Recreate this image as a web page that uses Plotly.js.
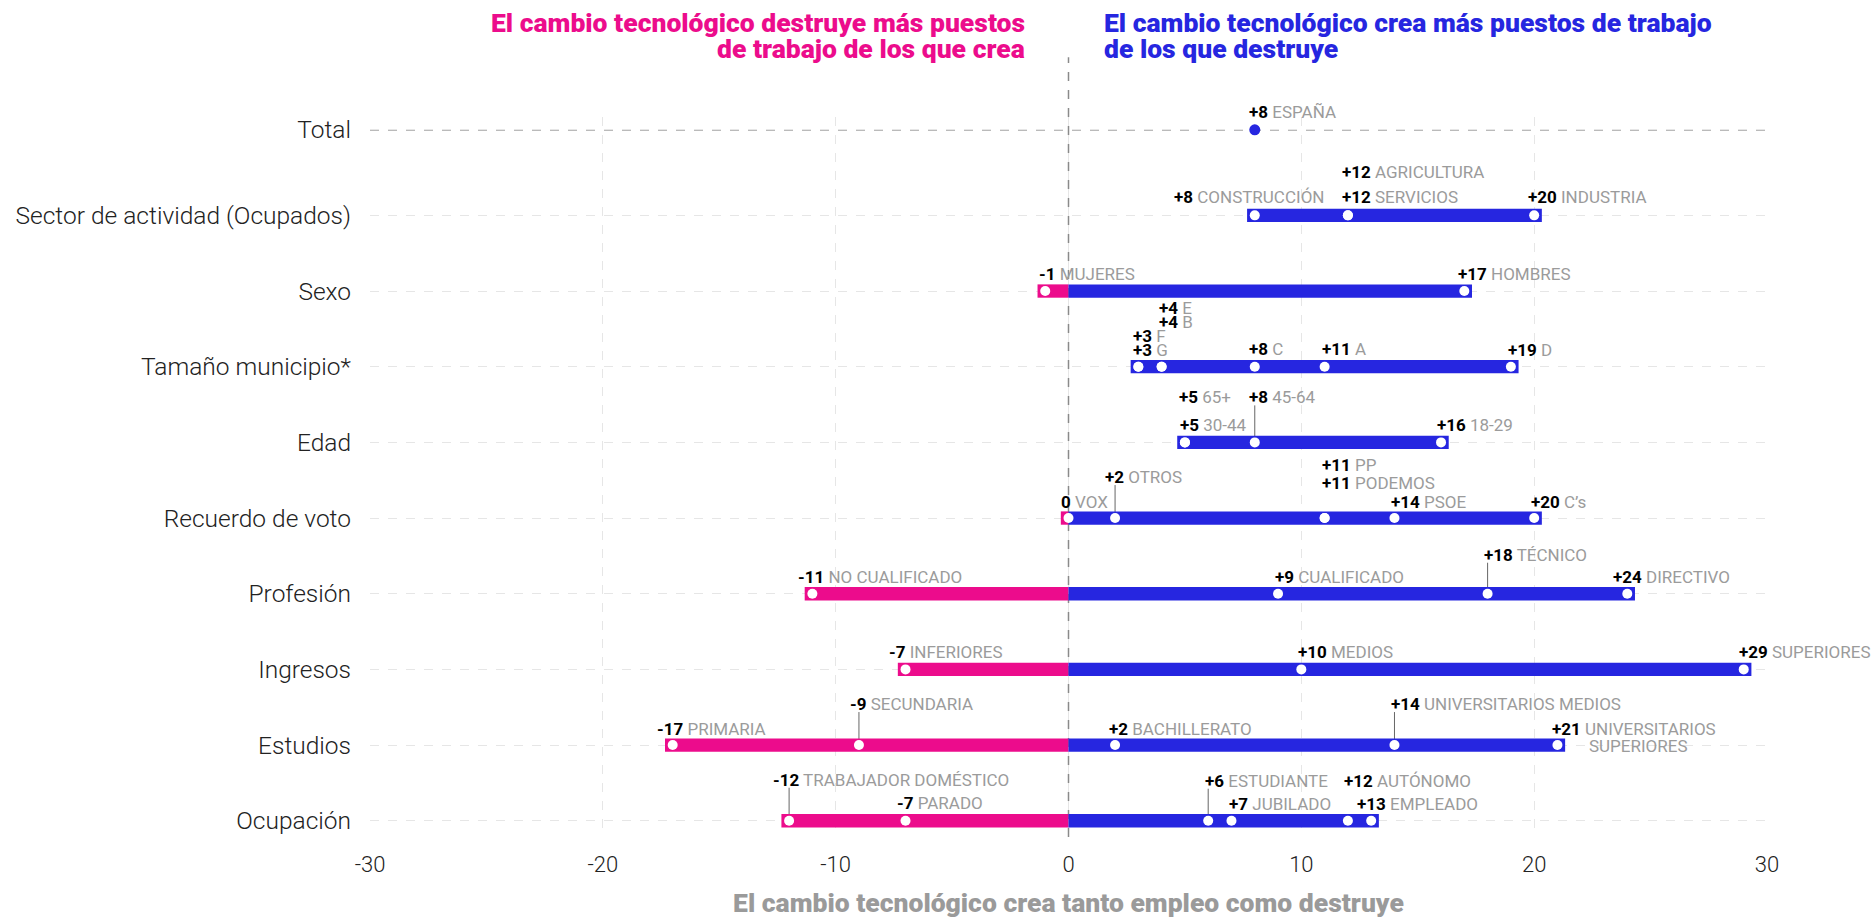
<!DOCTYPE html>
<html>
<head>
<meta charset="utf-8">
<script src="https://cdn.plot.ly/plotly-3.0.1.min.js"></script>
<style>html,body{margin:0;padding:0;background:#fff;}#chart{width:1871px;height:918px;}</style>
</head>
<body>
<div id="chart"></div>
<script>
// ---------- DATA ----------
const rowNames = ['Ocupación','Estudios','Ingresos','Profesión','Recuerdo de voto','Edad','Tamaño municipio*','Sexo','Sector de actividad (Ocupados)','Total'];

const ocupacionNames = ['TRABAJADOR DOMÉSTICO','PARADO','ESTUDIANTE','JUBILADO','AUTÓNOMO','EMPLEADO'];
const ocupacionValues = [-12,-7,6,7,12,13];
const estudiosNames = ['PRIMARIA','SECUNDARIA','BACHILLERATO','UNIVERSITARIOS MEDIOS','UNIVERSITARIOS SUPERIORES'];
const estudiosValues = [-17,-9,2,14,21];
const ingresosNames = ['INFERIORES','MEDIOS','SUPERIORES'];
const ingresosValues = [-7,10,29];
const profesionNames = ['NO CUALIFICADO','CUALIFICADO','TÉCNICO','DIRECTIVO'];
const profesionValues = [-11,9,18,24];
const votoNames = ['VOX','OTROS','PP','PODEMOS','PSOE','C’s'];
const votoValues = [0,2,11,11,14,20];
const edadNames = ['65+','30-44','45-64','18-29'];
const edadValues = [5,5,8,16];
const tamanoNames = ['G','F','B','E','C','A','D'];
const tamanoValues = [3,3,4,4,8,11,19];
const sexoNames = ['MUJERES','HOMBRES'];
const sexoValues = [-1,17];
const sectorNames = ['CONSTRUCCIÓN','SERVICIOS','AGRICULTURA','INDUSTRIA'];
const sectorValues = [8,12,12,20];
const totalNames = ['ESPAÑA'];
const totalValues = [8];

const xTickVals = [-30,-20,-10,0,10,20,30];

const titleLeft = ['El cambio tecnológico destruye más puestos','de trabajo de los que crea'];
const titleRight = ['El cambio tecnológico crea más puestos de trabajo','de los que destruye'];
const xTitle = 'El cambio tecnológico crea tanto empleo como destruye';

// ---------- LABEL PLACEMENT (pixels: [dy above row, dx from point, leader line, wrap]) ----------
const ocupacionPos = [[41,-17,1],[18,-10,0],[40,-4,1],[17,-3.5,0],[40,-5,0],[17,-15,0]];
const estudiosPos = [[16,-17,0],[41,-10,1],[16,-7.5,0],[41,-4,1],[16,-6,0,1]];
const ingresosPos = [[17,-17.5,0],[17,-4,0],[17,-6,0]];
const profesionPos = [[17,-15,0],[17,-4.5,0],[39,-5,1],[17,-15.5,0]];
const votoPos = [[16,-8.5,0],[41,-11,1],[53,-3.6,0],[35,-3.6,0],[16,-4,0],[16,-4,0]];
const edadPos = [[45,-7,0],[17,-6,0],[45,-6.5,1],[17,-5.5,0]];
const tamanoPos = [[17,-6,0],[31,-6,0],[44.5,-4,0],[58.5,-4,0],[18,-6.5,0],[18,-4,0],[17,-4,0]];
const sexoPos = [[17,-7,0],[17,-7,0]];
const sectorPos = [[18,-82,0],[18,-7,0],[43.5,-7,0],[18,-7,0]];
const totalPos = [[18,-7,0]];

// ---------- BUILD ----------
const PINK = '#EC0C8C', BLUE = '#2626E0';
const groups = [
  [ocupacionNames, ocupacionValues, ocupacionPos],
  [estudiosNames, estudiosValues, estudiosPos],
  [ingresosNames, ingresosValues, ingresosPos],
  [profesionNames, profesionValues, profesionPos],
  [votoNames, votoValues, votoPos],
  [edadNames, edadValues, edadPos],
  [tamanoNames, tamanoValues, tamanoPos],
  [sexoNames, sexoValues, sexoPos],
  [sectorNames, sectorValues, sectorPos],
  [totalNames, totalValues, totalPos]
];
const rowY = rowNames.map((n,i) => i < 9 ? i : 9.13);
const totalIdx = 9;
const pad = 0.33;
const LBL = 17;

const pinkY=[], pinkBase=[], pinkLen=[], blueY=[], blueBase=[], blueLen=[];
const dotX=[], dotY=[];
const annotations=[], shapes=[];

function fmt(v){ return (v>0?'+':'') + v; }

groups.forEach((g, gi) => {
  const [names, vals, pos] = g;
  const y = rowY[gi];
  if (gi !== totalIdx) {
    const mn = Math.min(...vals), mx = Math.max(...vals);
    if (mn <= 0) {
      pinkY.push(y); pinkBase.push(mn - pad); pinkLen.push(-(mn - pad));
      blueY.push(y); blueBase.push(0); blueLen.push(mx + pad);
    } else {
      blueY.push(y); blueBase.push(mn - pad); blueLen.push(mx + pad - (mn - pad));
    }
    vals.forEach(v => { dotX.push(v); dotY.push(y); });
  }
  names.forEach((nm, k) => {
    const v = vals[k];
    const [dy, dx, leader, wrap] = pos[k];
    let first = nm, rest = null;
    if (wrap) { const s = nm.indexOf(' '); first = nm.slice(0,s); rest = nm.slice(s+1); }
    annotations.push({
      xref:'x', yref:'y', x:v, y:y, xanchor:'left', yanchor:'middle',
      xshift:dx, yshift:dy, showarrow:false, borderpad:0,
      text:'<span style="color:#000"><b>'+fmt(v)+'</b></span> '+first,
      font:{family:'Roboto', size:LBL, color:'#9b9b9b'}
    });
    if (rest) {
      annotations.push({
        xref:'x', yref:'y', x:v, y:y, xanchor:'left', yanchor:'middle',
        xshift:dx+37, yshift:dy-17, showarrow:false, borderpad:0,
        text:rest, font:{family:'Roboto', size:LBL, color:'#9b9b9b'}
      });
    }
    if (leader) {
      shapes.push({type:'line', layer:'below', xref:'x', yref:'y', ysizemode:'pixel', yanchor:y,
        x0:v, x1:v, y0:0, y1:dy-8, line:{color:'#666', width:1}});
    }
  });
});

// zero line & total line
shapes.push({type:'line', layer:'below', xref:'x', yref:'paper', x0:0, x1:0, y0:0, y1:1.083,
  line:{color:'#8a8a8a', width:1.5, dash:'dash'}});
shapes.push({type:'line', layer:'below', xref:'paper', yref:'y', x0:0, x1:1, y0:rowY[totalIdx], y1:rowY[totalIdx],
  line:{color:'#777', width:1.3, dash:'dash'}});

// titles
const tFont = c => ({family:'Roboto Black, Roboto', size:26.5, color:c, weight:900});
annotations.push({xref:'x', yref:'paper', x:0, y:1.1306, xanchor:'right', yanchor:'middle', xshift:-42, showarrow:false, text:titleLeft[0], font:tFont(PINK)});
annotations.push({xref:'x', yref:'paper', x:0, y:1.0958, xanchor:'right', yanchor:'middle', xshift:-42, showarrow:false, text:titleLeft[1], font:tFont(PINK)});
annotations.push({xref:'x', yref:'paper', x:0, y:1.1306, xanchor:'left', yanchor:'middle', xshift:33, showarrow:false, text:titleRight[0], font:tFont(BLUE)});
annotations.push({xref:'x', yref:'paper', x:0, y:1.0958, xanchor:'left', yanchor:'middle', xshift:33, showarrow:false, text:titleRight[1], font:tFont(BLUE)});

const barW = 0.176;
const traces = [
  {type:'bar', orientation:'h', y:pinkY, x:pinkLen, base:pinkBase, width:barW,
   marker:{color:PINK, line:{width:0}}, hoverinfo:'skip', showlegend:false},
  {type:'bar', orientation:'h', y:blueY, x:blueLen, base:blueBase, width:barW,
   marker:{color:BLUE, line:{width:0}}, hoverinfo:'skip', showlegend:false},
  {type:'scatter', mode:'markers', x:dotX, y:dotY,
   marker:{color:'#fff', size:10, line:{width:0}}, hoverinfo:'skip', showlegend:false},
  {type:'scatter', mode:'markers', x:totalValues, y:[rowY[totalIdx]],
   marker:{color:BLUE, size:11, line:{width:0}}, hoverinfo:'skip', showlegend:false}
];

const layout = {
  width:1871, height:918,
  margin:{l:370, r:104, t:117, b:81},
  paper_bgcolor:'#fff', plot_bgcolor:'#fff',
  barmode:'overlay',
  font:{family:'Roboto'},
  xaxis:{
    range:[-30,30], tickvals:xTickVals, ticktext:xTickVals.map(String),
    showgrid:true, gridcolor:'#e6e6e6', griddash:'dash', gridwidth:1,
    zeroline:false, showline:false, ticks:'', ticklabelstandoff:12,
    tickfont:{family:'Roboto', size:22, color:'#222', weight:300},
    title:{text:xTitle, standoff:17, font:{family:'Roboto Black, Roboto', size:26.5, color:'#9a9a9a', weight:900}},
    fixedrange:true
  },
  yaxis:{
    range:[-0.215, 9.30], tickvals:rowY, ticktext:rowNames,
    showgrid:true, gridcolor:'#e6e6e6', griddash:'dash', gridwidth:1,
    zeroline:false, showline:false, ticks:'', ticklabelstandoff:18,
    tickfont:{family:'Roboto', size:24.5, color:'#222', weight:300},
    fixedrange:true
  },
  shapes:shapes,
  annotations:annotations,
  showlegend:false
};

Plotly.newPlot('chart', traces, layout, {displayModeBar:false, staticPlot:true});
</script>
</body>
</html>
